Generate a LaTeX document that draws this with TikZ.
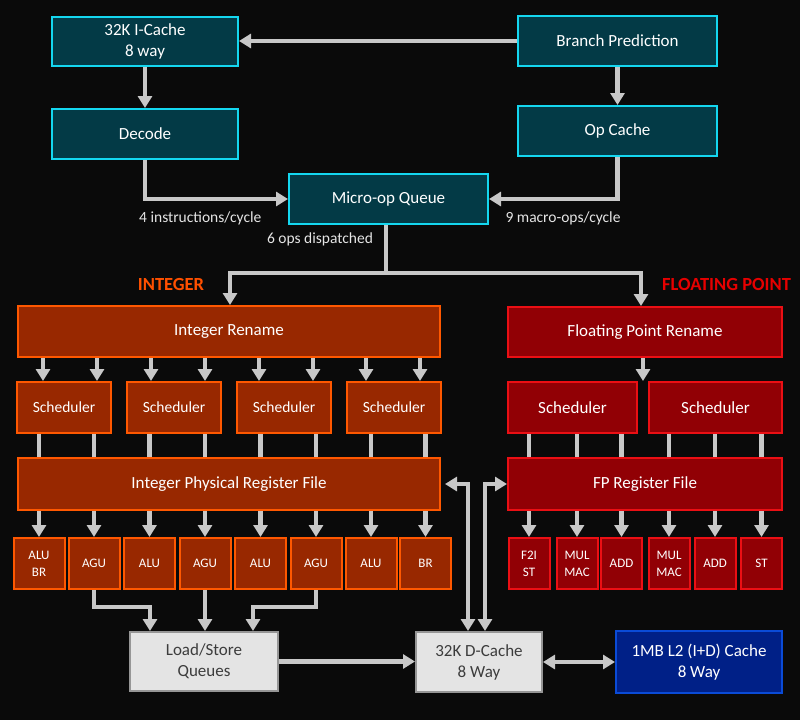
\documentclass[tikz,border=0pt]{standalone}
\usepackage{fontspec}
\setmainfont{Carlito}
\usepackage{tikz}
\usepackage{xcolor}
\usetikzlibrary{arrows.meta,positioning,calc}
\definecolor{bgblack}{RGB}{10,10,10}
\definecolor{feteal}{RGB}{3,58,70}
\definecolor{fecyan}{RGB}{20,215,240}
\definecolor{intfill}{RGB}{152,40,0}
\definecolor{intedge}{RGB}{255,88,0}
\definecolor{fpfill}{RGB}{145,0,5}
\definecolor{fpedge}{RGB}{235,15,20}
\definecolor{memfill}{RGB}{228,228,228}
\definecolor{memedge}{RGB}{150,150,150}
\definecolor{memtext}{RGB}{60,60,60}
\definecolor{ltwofill}{RGB}{0,32,135}
\definecolor{ltwoedge}{RGB}{10,75,215}
\definecolor{flowgray}{RGB}{200,200,200}
\definecolor{intlabel}{RGB}{255,80,0}
\definecolor{fplabel}{RGB}{230,0,0}

\begin{document}
\begin{tikzpicture}[x=1pt,y=-1pt,
    box/.style={line width=2pt,inner sep=0pt,align=center,
        font=\fontsize{17}{21}\selectfont},
    fe/.style={box,draw=fecyan,fill=feteal,text=white},
    intbox/.style={box,draw=intedge,fill=intfill,text=white},
    fpbox/.style={box,draw=fpedge,fill=fpfill,text=white},
    membox/.style={box,draw=memedge,fill=memfill,text=memtext},
    ltwobox/.style={box,draw=ltwoedge,fill=ltwofill,text=white},
    unit/.style={font=\fontsize{13}{17}\selectfont,minimum width=#1,minimum height=51pt},
    flow/.style={draw=flowgray,line width=4.5pt,-{Triangle[width=14pt,length=12pt]}},
    flowboth/.style={draw=flowgray,line width=4.5pt,
        {Triangle[width=14pt,length=12pt]}-{Triangle[width=14pt,length=12pt]}},
    feed/.style={draw=flowgray,line width=4.5pt},
    lbl/.style={inner sep=0pt,text=white!90!black,font=\fontsize{15.5}{18}\selectfont},
    side/.style={inner sep=0pt,font=\fontsize{18.5}{22}\selectfont\bfseries}]
    \fill[bgblack] (0,0) rectangle (800,720);

    % Front end
    \node[fe,minimum width=186pt,minimum height=49pt] (icache) at (145,41.5) {32K I-Cache\\8 way};
    \node[fe,minimum width=199pt,minimum height=50pt] (bp) at (617.5,41) {Branch Prediction};
    \node[fe,minimum width=186pt,minimum height=50pt] (decode) at (145,134) {Decode};
    \node[fe,minimum width=199pt,minimum height=50pt] (opcache) at (617.5,131) {Op Cache};
    \node[fe,minimum width=199pt,minimum height=50pt] (uopq) at (388.5,199) {Micro-op Queue};
    \draw[flow] (bp.west) -- (bp.west -| icache.east);
    \draw[flow] (icache) -- (decode);
    \draw[flow] (bp) -- (opcache);
    \draw[flow] (decode.south) |- (uopq.west);
    \draw[flow] (opcache.south) |- (uopq.east);
    \node[lbl,anchor=west] (ipc) at (139,218) {4 instructions/cycle};
    \node[lbl] (mpc) at (563,218) {9 macro-ops/cycle};
    \node[lbl] (disp) at (320,239) {6 ops dispatched};

    % Integer side
    \node[side,text=intlabel] (inttitle) at (171,284) {INTEGER};
    \node[intbox,minimum width=422pt,minimum height=51pt] (irename) at (229,331.5) {Integer Rename};
    \foreach \s/\x in {1/64,2/174,3/284,4/394}
        \node[intbox,font=\fontsize{15.5}{19}\selectfont,minimum width=94pt,minimum height=51pt] (isched\s) at (\x,407.5) {Scheduler};
    \node[intbox,minimum width=422pt,minimum height=52pt] (iprf) at (229,484) {Integer Physical Register File};
    \foreach \i/\x/\t in {1/39/{ALU\\BR},2/94/AGU,3/149.5/ALU,4/205/AGU,5/260.5/ALU,6/316/AGU,7/371/ALU,8/425.5/BR}
        \node[intbox,unit=51pt] (iex\i) at (\x,563.5) {\t};
    \foreach \s/\a/\b in {1/43/97,2/151/205,3/259/313,4/366/420} {
        \draw[flow] (irename.south -| \a,0) -- (isched\s.north -| \a,0);
        \draw[flow] (irename.south -| \b,0) -- (isched\s.north -| \b,0);
    }
    \foreach \i/\s in {1/1,2/1,3/2,4/2,5/3,6/3,7/4,8/4} {
        \draw[feed] (isched\s.south -| iex\i) -- (iprf.north -| iex\i);
        \draw[flow] (iprf.south -| iex\i) -- (iex\i);
    }

    % Floating point side
    \node[side,text=fplabel] (fptitle) at (726.5,284) {FLOATING POINT};
    \node[fpbox,minimum width=274pt,minimum height=50pt] (frename) at (645,332) {Floating Point Rename};
    \node[fpbox,minimum width=129pt,minimum height=51pt] (fsched1) at (572.5,407.5) {Scheduler};
    \node[fpbox,minimum width=133pt,minimum height=51pt] (fsched2) at (715.5,407.5) {Scheduler};
    \node[fpbox,minimum width=274pt,minimum height=52pt] (fprf) at (645,484) {FP Register File};
    \foreach \i/\x/\t in {1/529/{F2I\\ST},2/577/{MUL\\MAC},3/621.5/ADD,4/669/{MUL\\MAC},5/715/ADD,6/761.5/ST}
        \node[fpbox,unit=41pt] (fex\i) at (\x,563.5) {\t};
    \coordinate (fgap) at ($(fsched1.north east)!0.5!(fsched2.north west)$);
    \draw[flow] (frename.south -| fgap) -- (fgap);
    \foreach \i/\s in {1/1,2/1,3/1,4/2,5/2,6/2} {
        \draw[feed] (fsched\s.south -| fex\i) -- (fprf.north -| fex\i);
        \draw[flow] (fprf.south -| fex\i) -- (fex\i);
    }

    % Dispatch fork
    \coordinate (fork) at (386,273);
    \draw[feed] (uopq.south -| fork) -- (fork);
    \draw[flow] (fork) -| ([xshift=1pt]irename.north);
    \draw[flow] (fork) -| ([xshift=-4pt]frename.north);

    % Memory
    \node[membox,minimum width=148pt,minimum height=59pt] (lsq) at (204,661.5) {Load/Store\\Queues};
    \node[membox,minimum width=126pt,minimum height=60pt] (dcache) at (479,662) {32K D-Cache\\8 Way};
    \node[ltwobox,minimum width=166pt,minimum height=62pt] (ltwo) at (699,662) {1MB L2 (I+D) Cache\\8 Way};
    \draw[flow] (iex2.south) -- ++(0,17) -| ([xshift=-54pt]lsq.north);
    \draw[flow] (iex4.south) -- (iex4.south |- lsq.north);
    \draw[flow] (iex6.south) -- ++(0,17) -| ([xshift=49pt]lsq.north);
    \draw[flow] (lsq.east) -- (lsq.east -| dcache.west);
    \draw[flowboth] (dcache.east) -- (dcache.east -| ltwo.west);
    \draw[flowboth] ([xshift=4pt]iprf.east) -| ([xshift=-11pt]dcache.north);
    \draw[flowboth] (fprf.west) -| ([xshift=6pt]dcache.north);
\end{tikzpicture}
\end{document}
